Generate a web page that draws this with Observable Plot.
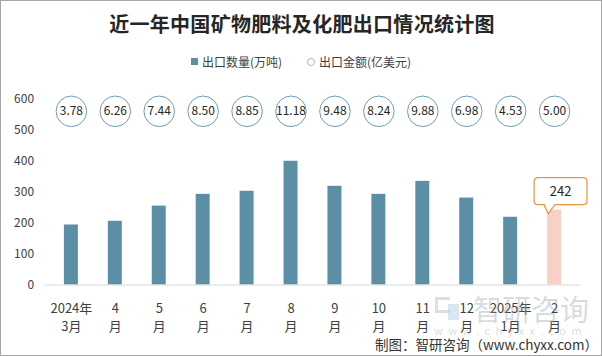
<!DOCTYPE html>
<html>
<head>
<meta charset="utf-8">
<script src="https://cdn.jsdelivr.net/npm/d3@7"></script>
<script src="https://cdn.jsdelivr.net/npm/@observablehq/plot@0.6"></script>
<style>
  html, body { margin: 0; padding: 0; background: #fff; }
  #wrap { position: relative; width: 602px; height: 356px; box-sizing: border-box; border: 1px solid #a6a6a6; overflow: hidden; font-family: "Noto Sans CJK SC", "Noto Sans", sans-serif; }
  #chart { position: absolute; left: -1px; top: -1px; }
  .title { position: absolute; left: 0; width: 602px; top: 11px; text-align: center; font-size: 20px; font-weight: bold; color: #262626; line-height: 24px; letter-spacing: 0.3px; }
  .leg { position: absolute; top: 52px; font-size: 12px; color: #404040; line-height: 18px; white-space: nowrap; }
  .sq { position: absolute; left: 190px; top: 57px; width: 7px; height: 7px; background: #5b8fa6; }
  .ci { position: absolute; left: 306px; top: 57px; width: 6px; height: 6px; border: 1px solid #9dbccb; border-radius: 50%; background: #fff; }
  .foot { position: absolute; right: 3px; top: 335px; font-size: 13.5px; color: #333; line-height: 16px; white-space: nowrap; }
  .wm1 { position: absolute; left: 472px; top: 290px; font-size: 29px; color: rgba(150,160,170,0.38); line-height: 34px; white-space: nowrap; }
  .wm2 { position: absolute; left: 433px; top: 324px; font-size: 11px; color: rgba(150,160,170,0.38); letter-spacing: 5.4px; line-height: 11px; white-space: nowrap; }
  .lg1 { position: absolute; left: 434px; top: 296px; width: 12px; height: 10px; border: 3px solid rgba(150,165,190,0.35); border-right: none; }
  .lg2 { position: absolute; left: 447px; top: 303px; width: 11px; height: 16px; background: rgba(170,200,230,0.45); }
</style>
</head>
<body>
<div id="wrap">
  <div id="chart"></div>
  <div class="title">近一年中国矿物肥料及化肥出口情况统计图</div>
  <div class="sq"></div>
  <div class="leg" style="left:201px">出口数量(万吨)</div>
  <div class="ci"></div>
  <div class="leg" style="left:318px">出口金额(亿美元)</div>
  <div class="lg1"></div>
  <div class="lg2"></div>
  <div class="wm1">智研咨询</div>
  <div class="wm2">www.chyxx.com</div>
  <div class="foot">制图：智研咨询（www.chyxx.com）</div>
</div>
<script>
const months = ["2024年\n3月", "4\n月", "5\n月", "6\n月", "7\n月", "8\n月", "9\n月", "10\n月", "11\n月", "12\n月", "2025年\n1月", "2\n月"];
const volume = [194, 206, 255, 293, 303, 400, 319, 293, 335, 281, 219, 242];
const amount = [3.78, 6.26, 7.44, 8.50, 8.85, 11.18, 9.48, 8.24, 9.88, 6.98, 4.53, 5.00];
const yTicks = [0, 100, 200, 300, 400, 500, 600];
const highlightIndex = 11;

const data = months.map((m, i) => ({month: m, volume: volume[i], amount: amount[i], hl: i === highlightIndex}));

const blue = "#5b8fa6";
const pink = "#f8d0c7";

const chart = Plot.plot({
  width: 602,
  height: 356,
  marginTop: 99,
  marginBottom: 71,
  marginLeft: 44.6,
  marginRight: 20.6,
  style: {fontFamily: "'Noto Sans CJK SC', 'Noto Sans', sans-serif", background: "transparent", overflow: "visible"},
  x: {domain: months, paddingInner: 0.69, paddingOuter: 0.345, axis: null},
  y: {domain: [0, 600], axis: null},
  marks: [
    Plot.axisY({ticks: yTicks, tickSize: 0, tickPadding: 11, fontSize: 12, color: "#404040", label: null}),
    Plot.barY(data.filter(d => !d.hl), {x: "month", y: "volume", fill: blue}),
    Plot.barY(data.filter(d => d.hl), {x: "month", y: "volume", fill: pink}),
    Plot.ruleY([0], {stroke: "#d9d9d9", strokeWidth: 1.2}),
    Plot.dot(data, {x: "month", frameAnchor: "top", dy: 12, r: 15.3, stroke: "#6c9cb2", strokeWidth: 1, fill: "white"}),
    Plot.text(data, {x: "month", frameAnchor: "top", dy: 12, lineAnchor: "middle", text: d => d.amount.toFixed(2), fontSize: 12, fill: "#262626"}),
    Plot.text(data, {x: "month", frameAnchor: "bottom", lineAnchor: "top", textAnchor: "middle", dy: 14.5, lineHeight: 1.44, text: "month", fontSize: 13, fill: "#404040"})
  ]
});
document.getElementById("chart").appendChild(chart);

// callout for highlighted bar, positioned through the plot's scales
(function () {
  const sx = chart.scale("x"), sy = chart.scale("y");
  const d = data[highlightIndex];
  const cx = sx.apply(d.month) + sx.bandwidth / 2;
  const cy = sy.apply(d.volume);
  const tipx = cx - 6, tipy = cy + 4;
  const bl = tipx - 14, br = tipx + 39, bb = tipy - 9, bt = bb - 27, r = 4;
  const path = `M${bl + r},${bt} H${br - r} Q${br},${bt} ${br},${bt + r} V${bb - r} Q${br},${bb} ${br - r},${bb} H${tipx + 7} L${tipx},${tipy} L${tipx - 4},${bb} H${bl + r} Q${bl},${bb} ${bl},${bb - r} V${bt + r} Q${bl},${bt} ${bl + r},${bt} Z`;
  const g = d3.select(chart).append("g");
  g.append("path").attr("d", path).attr("fill", "white").attr("stroke", "#e8923c").attr("stroke-width", 1.2);
  g.append("text").attr("x", (bl + br) / 2).attr("y", (bt + bb) / 2).attr("dy", "0.35em")
    .attr("text-anchor", "middle").attr("font-size", 13).attr("fill", "#262626").text(d.volume);
})();
</script>
</body>
</html>
